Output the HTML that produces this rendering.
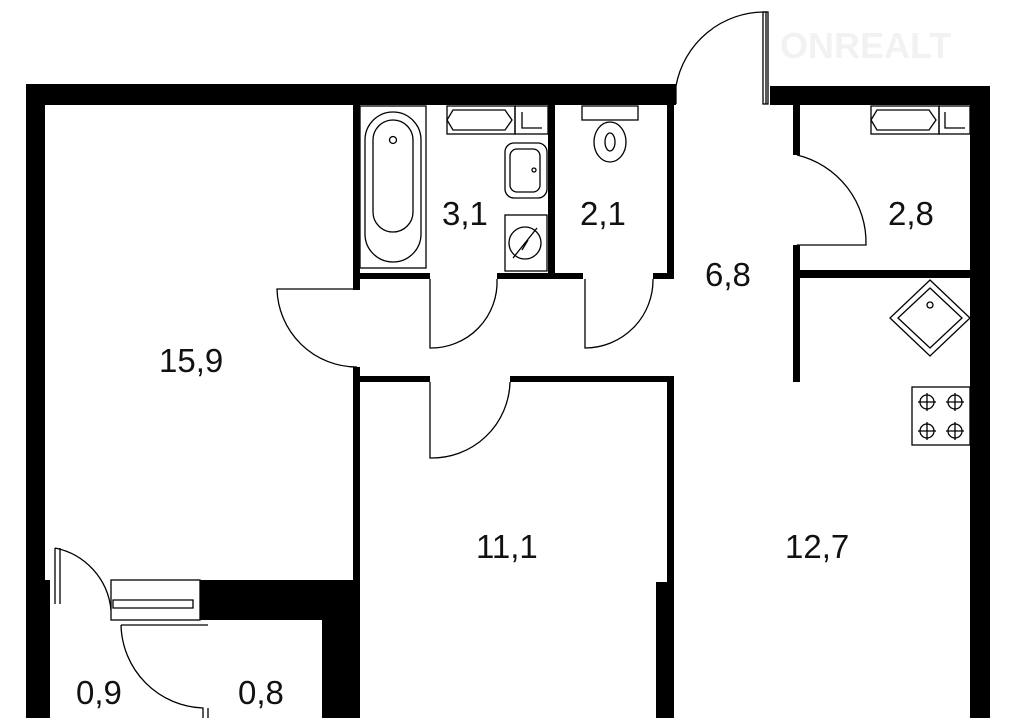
<!DOCTYPE html>
<html><head><meta charset="utf-8"><style>
html,body{margin:0;padding:0;background:#fff;width:1015px;height:718px;overflow:hidden}
svg{display:block}
text{font-family:"Liberation Sans",sans-serif;font-size:33px;fill:#111}
</style></head><body>
<svg width="1015" height="718" viewBox="0 0 1015 718">
<g fill="#000">
<rect x="26" y="84" width="650" height="21"/>
<rect x="770" y="86" width="220" height="19"/>
<rect x="26" y="84" width="19" height="496"/>
<rect x="26" y="580" width="24" height="138"/>
<rect x="970" y="86" width="20" height="632"/>
<rect x="353" y="105" width="7" height="185"/>
<rect x="353" y="367" width="7" height="351"/>
<rect x="360" y="273" width="70" height="6"/>
<rect x="497" y="273" width="86" height="6"/>
<rect x="548" y="105" width="7" height="174"/>
<rect x="653" y="273" width="21" height="6"/>
<rect x="667" y="105" width="7" height="174"/>
<rect x="360" y="376" width="70" height="6"/>
<rect x="510" y="376" width="164" height="6"/>
<rect x="667" y="376" width="7" height="206"/>
<rect x="656" y="582" width="18" height="136"/>
<rect x="793" y="105" width="7" height="50"/>
<rect x="793" y="245" width="7" height="137"/>
<rect x="800" y="270" width="170" height="8"/>
<rect x="200" y="580" width="153" height="40"/>
<rect x="322" y="620" width="31" height="98"/>
</g>
<g fill="none" stroke="#000" stroke-width="1.3">
<path d="M676 104 L676 86 A90 90 0 0 1 766 12 L766 104"/>
<rect x="763" y="12" width="5" height="92"/>
<path d="M357 289 L277 289 A80 80 0 0 0 357 367"/>
<path d="M430 279 L430 348 A66 66 0 0 0 497 279"/>
<path d="M585 279 L585 348 A68 68 0 0 0 653 279"/>
<path d="M430 382 L430 458 A78 78 0 0 0 510 382"/>
<path d="M797 155 A90 90 0 0 1 866 245 L797 245"/>
<rect x="360" y="106" width="66" height="162"/>
<rect x="365" y="112" width="56" height="150" rx="28"/>
<rect x="373" y="120" width="40" height="112" rx="20"/>
<circle cx="393" cy="140" r="3.5"/>
<rect x="505" y="143" width="42" height="55" rx="9"/>
<rect x="510" y="149" width="30" height="43" rx="7"/>
<circle cx="534" cy="170" r="2"/>
<rect x="505" y="215" width="42" height="56"/>
<circle cx="525" cy="243" r="16"/>
<path d="M513 258 L537 228 M522 250 L528 240"/>
<rect x="447" y="106" width="68" height="28"/><rect x="515" y="106" width="33" height="28"/>
<path d="M453 110 L505 110 L512 120 L505 130 L453 130 L447 120 Z M522 112 L522 128 L542 128"/>
<rect x="871" y="106" width="68" height="28"/><rect x="939" y="106" width="31" height="28"/>
<path d="M877 110 L929 110 L936 120 L929 130 L877 130 L871 120 Z M945 112 L945 128 L965 128"/>
<rect x="582" y="106" width="56" height="14"/>
<ellipse cx="610" cy="142" rx="16" ry="20"/>
<ellipse cx="610" cy="142" rx="5" ry="9"/>
<path d="M930 280 L970 318 L930 356 L890 318 Z"/>
<path d="M930 288 L962 318 L930 348 L898 318 Z"/>
<circle cx="930" cy="305" r="3"/>
<rect x="912" y="387" width="58" height="58"/>
<circle cx="927" cy="402" r="7"/><circle cx="955" cy="402" r="7"/>
<circle cx="927" cy="431" r="7"/><circle cx="955" cy="431" r="7"/>
<path d="M918 402h18M927 393v18M946 402h18M955 393v18M918 431h18M927 422v18M946 431h18M955 422v18"/>
<rect x="111" y="580" width="89" height="40"/>
<path d="M113 600h80v8h-80z"/>
<path d="M55 548 L55 604 M60 548 L60 604 M55 548 A70 70 0 0 1 111 610"/>
<path d="M121 625 L208 625 M121 625 A85 85 0 0 0 203 708 L203 718 M208 708 L208 718"/>
</g>
<text x="780" y="58" style="font-size:36px;fill:#f2f2f2;font-weight:bold">ONREALT</text>
<text x="159" y="372">15,9</text>
<text x="442" y="225">3,1</text>
<text x="580" y="225">2,1</text>
<text x="705" y="286">6,8</text>
<text x="888" y="225">2,8</text>
<text x="476" y="558">11,1</text>
<text x="785" y="558">12,7</text>
<text x="76" y="704">0,9</text>
<text x="238" y="704">0,8</text>
</svg>
</body></html>
